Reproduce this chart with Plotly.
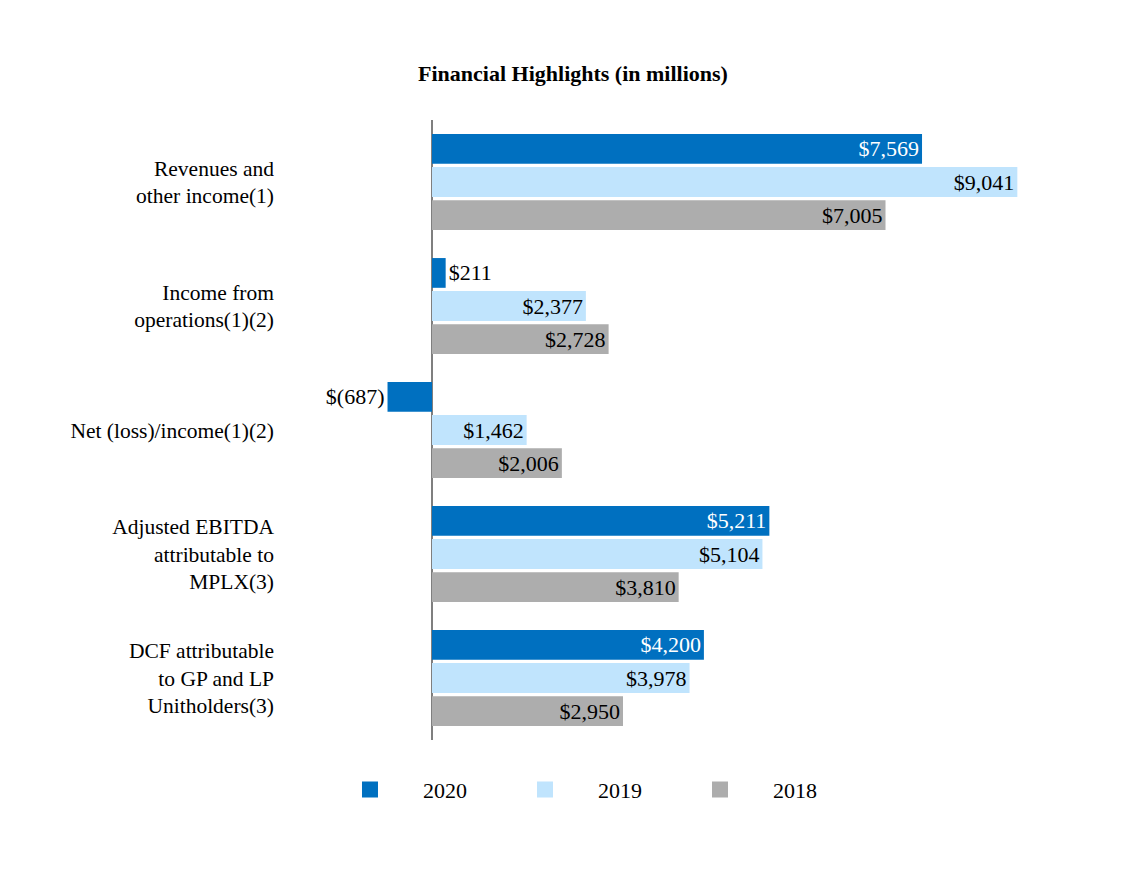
import plotly.graph_objects as go

categories = [
    "Revenues and<br>other income(1)",
    "Income from<br>operations(1)(2)",
    "Net (loss)/income(1)(2)",
    "Adjusted EBITDA<br>attributable to<br>MPLX(3)",
    "DCF attributable<br>to GP and LP<br>Unitholders(3)",
]
years = ["2020", "2019", "2018"]
values_2020 = [7569, 211, -687, 5211, 4200]
values_2019 = [9041, 2377, 1462, 5104, 3978]
values_2018 = [7005, 2728, 2006, 3810, 2950]

series = [values_2020, values_2019, values_2018]
colors = ["#0070C0", "#C0E4FD", "#ADADAD"]
inside_colors = ["white", "black", "black"]


def fmt(v):
    return f"${v:,}" if v >= 0 else f"$({abs(v):,})"


FONT = "Liberation Serif"
FS = 22
fig = go.Figure()
for name, vals, col, icol in zip(years, series, colors, inside_colors):
    fig.add_trace(go.Bar(
        y=categories, x=vals, orientation="h", name=name,
        marker=dict(color=col, line=dict(width=0)),
        text=[fmt(v) for v in vals], textposition="auto",
        insidetextanchor="end",
        insidetextfont=dict(color=icol, size=FS, family=FONT),
        outsidetextfont=dict(color="black", size=FS, family=FONT),
        textangle=0, constraintext="none",
        showlegend=False, cliponaxis=False,
    ))
# legend entries
for name, col in zip(years, colors):
    fig.add_trace(go.Scatter(
        x=[None], y=[None], mode="markers", name="\u00a0" * 6 + name,
        marker=dict(symbol="square", size=16, color=col),
    ))

fig.update_layout(
    width=1130, height=858,
    paper_bgcolor="white", plot_bgcolor="white",
    font=dict(family=FONT, size=21.5, color="black"),
    title=dict(text="<b>Financial Highlights (in millions)</b>", x=0.5, xanchor="center",
               xref="container", y=1 - 65 / 858, yanchor="middle",
               font=dict(size=22, family=FONT)),
    margin=dict(l=267, r=38, t=112, b=126),
    barmode="group", bargap=0.2, bargroupgap=0.1,
    xaxis=dict(range=[-2425, 10318], showgrid=False, showticklabels=False,
               zeroline=True, zerolinecolor="#7F7F7F", zerolinewidth=2, fixedrange=True),
    yaxis=dict(autorange="reversed", showgrid=False, ticks="", showline=False,
               tickfont=dict(size=21.5, family=FONT)),
    legend=dict(orientation="h", x=0.0909, xanchor="left", y=-0.08, yanchor="middle",
                entrywidth=130, entrywidthmode="pixels", font=dict(size=22, family=FONT)),
    showlegend=True,
)
fig.write_html("out.html")
